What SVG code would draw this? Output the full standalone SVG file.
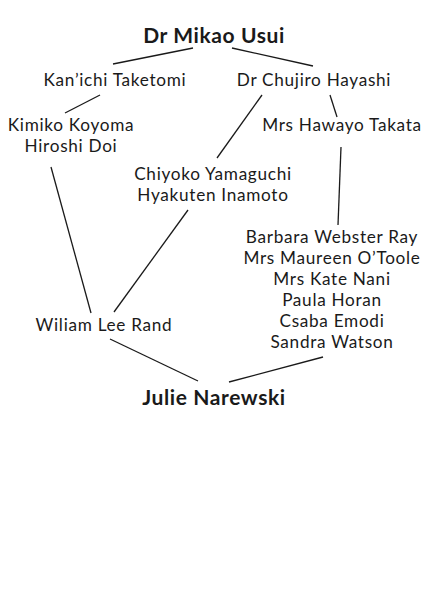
<svg xmlns="http://www.w3.org/2000/svg" width="430" height="607" viewBox="0 0 430 607">
<style>
text{font-family:Lato,"Open Sans","DejaVu Sans",sans-serif;font-size:17.2px;letter-spacing:0.7px;fill:#1a1a1a;text-anchor:middle}
.b{font-weight:bold;font-size:21px;letter-spacing:0.6px}
.c line{stroke:#1a1a1a;stroke-width:1.3}
</style>
<rect width="430" height="607" fill="#fff"/>
<g class="c" id="connectors">
<line x1="193" y1="48" x2="113" y2="64"/>
<line x1="232" y1="48" x2="313" y2="66"/>
<line x1="100" y1="95" x2="65" y2="113"/>
<line x1="262" y1="95" x2="217" y2="158"/>
<line x1="330" y1="95" x2="337" y2="117"/>
<line x1="341" y1="147" x2="338" y2="225"/>
<line x1="51" y1="167" x2="91" y2="313"/>
<line x1="188" y1="210" x2="114" y2="312"/>
<line x1="110" y1="339" x2="198" y2="381"/>
<line x1="323" y1="357" x2="229" y2="382"/>
</g>
<g id="usui"><text class="b" x="214" y="43">Dr Mikao Usui</text></g>
<g id="taketomi"><text x="115" y="86">Kan’ichi Taketomi</text></g>
<g id="hayashi"><text x="314" y="86">Dr Chujiro Hayashi</text></g>
<g id="koyoma"><text x="71" y="130.5">Kimiko Koyoma</text><text x="71" y="151.5">Hiroshi Doi</text></g>
<g id="takata"><text x="342" y="131">Mrs Hawayo Takata</text></g>
<g id="yamaguchi"><text x="213" y="180">Chiyoko Yamaguchi</text><text x="213" y="201">Hyakuten Inamoto</text></g>
<g id="ray"><text x="332" y="243">Barbara Webster Ray</text><text x="332" y="264">Mrs Maureen O’Toole</text><text x="332" y="285">Mrs Kate Nani</text><text x="332" y="306">Paula Horan</text><text x="332" y="327">Csaba Emodi</text><text x="332" y="348">Sandra Watson</text></g>
<g id="rand"><text x="104" y="331">Wiliam Lee Rand</text></g>
<g id="narewski"><text class="b" x="214" y="405">Julie Narewski</text></g>
</svg>
